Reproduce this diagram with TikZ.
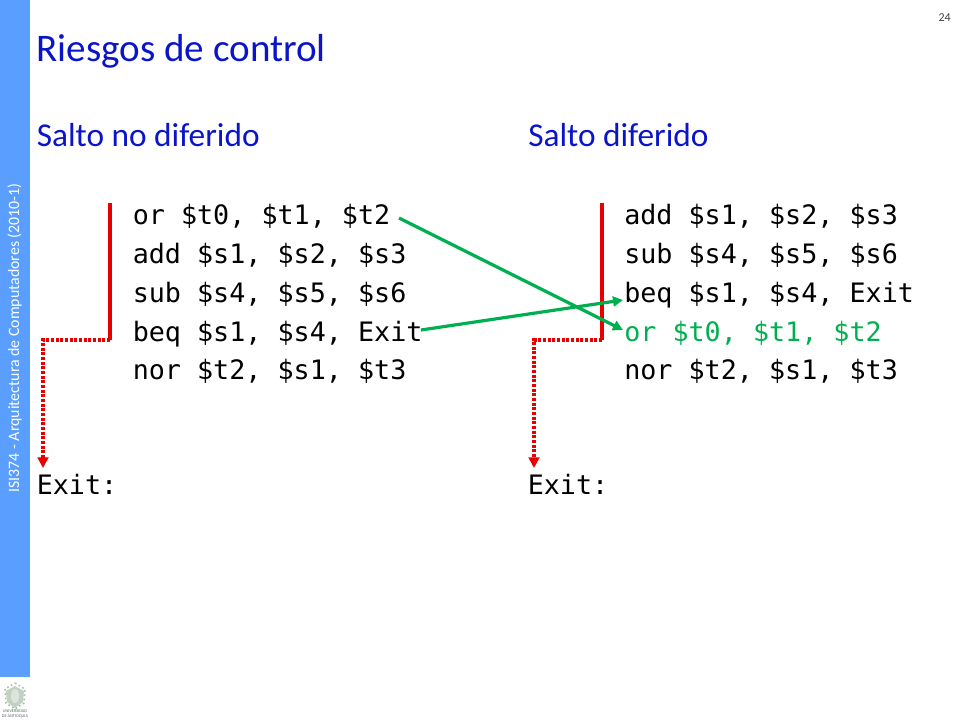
\documentclass[tikz,border=0pt]{standalone}
\usepackage{fontspec}
\setmainfont{Carlito}
\newfontfamily\codefont{DejaVu Sans Mono}
\usetikzlibrary{arrows.meta}
\definecolor{band}{HTML}{5A9EFF}
\definecolor{ttl}{HTML}{0A14C8}
\definecolor{grn}{HTML}{00B050}
\definecolor{redl}{HTML}{E60000}
\definecolor{logoc}{HTML}{A9BDA9}
\tikzset{
  code/.style={anchor=base west,inner sep=0pt,font=\codefont\fontsize{20.05}{23}\selectfont,text=black},
  head/.style={anchor=base west,inner sep=0pt,text=ttl},
  solidred/.style={draw=redl,line width=2.4pt},
  dotred/.style={draw=redl,line width=2.4pt,dash pattern=on 2.2pt off 1.3pt,-{Triangle[length=8pt,width=8pt,fill=redl]}},
  grnarrow/.style={draw=grn,line width=2.4pt,-{Triangle[length=7.5pt,width=7.5pt,fill=grn]}},
}
\begin{document}
\begin{tikzpicture}[x=0.75pt,y=-0.75pt]
\useasboundingbox (0,0) rectangle (960,720);
\fill[white] (0,0) rectangle (960,720);
\fill[band] (0,0) rectangle (30,677);
\node[rotate=90,anchor=base,inner sep=0pt,font=\fontsize{11.9}{14}\selectfont,text=white] (side) at (19,338) {ISI374 - Arquitectura de Computadores (2010-1)};
\node[anchor=base east,inner sep=0pt,font=\fontsize{9}{11}\selectfont,text=black!75] (num) at (951,22) {24};
\node[head,font=\fontsize{29.3}{34}\selectfont] (title) at (36.5,62) {Riesgos de control};
\node[head,font=\fontsize{25}{30}\selectfont] (hl) at (36.5,146.5) {Salto no diferido};
\node[head,font=\fontsize{25}{30}\selectfont] (hr) at (528,146.5) {Salto diferido};
% left code
\node[code] (l1) at (132.5,225) {or \$t0, \$t1, \$t2};
\node[code] (l2) at (132.5,264) {add \$s1, \$s2, \$s3};
\node[code] (l3) at (132.5,302) {sub \$s4, \$s5, \$s6};
\node[code] (l4) at (132.5,341) {beq \$s1, \$s4, Exit};
\node[code] (l5) at (132.5,379) {nor \$t2, \$s1, \$t3};
\node[code] (l6) at (36.5,494) {Exit:};
% right code
\node[code] (r1) at (624,225) {add \$s1, \$s2, \$s3};
\node[code] (r2) at (624,264) {sub \$s4, \$s5, \$s6};
\node[code] (r3) at (624,302) {beq \$s1, \$s4, Exit};
\node[code,text=grn] (r4) at (624,341) {or \$t0, \$t1, \$t2};
\node[code] (r5) at (624,379) {nor \$t2, \$s1, \$t3};
\node[code] (r6) at (527.5,494) {Exit:};
% branch lines
\coordinate (la) at (110,203);
\coordinate (lb) at (110,340);
\coordinate (lc) at (43,340);
\coordinate (ld) at (43,468);
\coordinate (ra) at (602,203);
\coordinate (rb) at (602,340);
\coordinate (rc) at (534,340);
\coordinate (rd) at (534,468);
\draw[solidred] (la) -- (lb);
\draw[dotred] (lb) -- (lc) -- (ld);
\draw[solidred] (ra) -- (rb);
\draw[dotred] (rb) -- (rc) -- (rd);
% moves
\coordinate (s1) at (399,218);
\coordinate (e1) at (623,330);
\coordinate (s2) at (421,330);
\coordinate (e2) at (623,300);
\draw[grnarrow] (s1) -- (e1);
\draw[grnarrow] (s2) -- (e2);
% logo
\fill[logoc!70] (15,686) -- (24,691) -- (23,702) -- (15,708) -- (7,702) -- (6,691) -- cycle;
\draw[logoc,line width=1.2pt,dotted] (15,683) -- (25,689) -- (24,703) -- (15,709) -- (6,703) -- (5,689) -- cycle;
\fill[white!60!logoc] (15,696) ellipse (4 and 7);
\node[inner sep=0pt,font=\fontsize{3.2}{3.2}\selectfont,text=black!60,align=center] (logo) at (15,714) {UNIVERSIDAD\\DE ANTIOQUIA};
\end{tikzpicture}
\end{document}
